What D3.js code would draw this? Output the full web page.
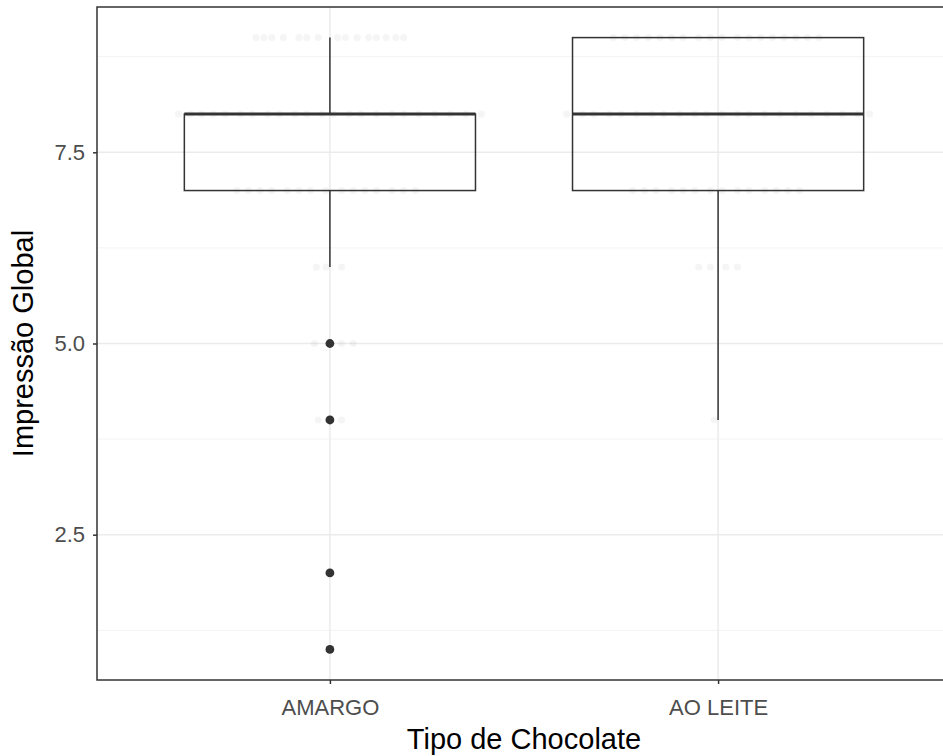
<!DOCTYPE html>
<meta charset="utf-8">
<head>
<style>
    body {margin: 0; background: #fff; overflow: hidden;}
    svg {display: block;}
    text {font-family: "Liberation Sans", Arial, sans-serif;}
</style>
</head>
<body>
<div class="chart"></div>
</body>
<script src="https://d3js.org/d3.v7.min.js"></script>
<script>
// categorias e resumo dos boxplots
var categories = ["AMARGO", "AO LEITE"];
var q1 = [7, 7];
var medians = [8, 8];
var q3 = [8, 9];
var whiskerLow = [6, 4];
var whiskerHigh = [9, 9];
var outliers = [[5, 4, 2, 1], []];

// pontos jitter (valor, deslocamento horizontal em fracao do passo)
var amargoValues = [9, 8, 7, 6, 5, 4, 2, 1];
var amargoJitter = [
    [-0.19, -0.17, -0.15, -0.12, -0.08, -0.06, -0.03, 0.02, 0.04, 0.07, 0.10, 0.12, 0.145, 0.17, 0.19],
    [-0.39, -0.36, -0.33, -0.30, -0.27, -0.23, -0.20, -0.16, -0.13, -0.09, -0.06, -0.02, 0.01, 0.05, 0.08, 0.12, 0.16, 0.19, 0.23, 0.27, 0.31, 0.35, 0.39],
    [-0.24, -0.21, -0.18, -0.15, -0.11, -0.08, -0.05, -0.01, 0.03, 0.06, 0.09, 0.12, 0.16, 0.19, 0.22],
    [-0.035, -0.01, 0.03],
    [-0.04, 0.0, 0.03, 0.06],
    [-0.03, 0.03],
    [0.0],
    [0.0]
];
var leiteValues = [9, 8, 7, 6, 4];
var leiteJitter = [
    [-0.27, -0.24, -0.21, -0.18, -0.15, -0.12, -0.09, -0.05, -0.02, 0.01, 0.05, 0.08, 0.11, 0.14, 0.17, 0.20, 0.23, 0.26],
    [-0.39, -0.35, -0.32, -0.28, -0.25, -0.21, -0.17, -0.14, -0.10, -0.06, -0.03, 0.01, 0.05, 0.08, 0.12, 0.16, 0.20, 0.24, 0.28, 0.32, 0.36, 0.39],
    [-0.22, -0.19, -0.16, -0.12, -0.09, -0.06, -0.02, 0.01, 0.05, 0.08, 0.12, 0.15, 0.18, 0.21],
    [-0.05, -0.02, 0.02, 0.05],
    [-0.01]
];
var yTicks = [2.5, 5.0, 7.5];
var yMinor = [1.25, 3.75, 6.25, 8.75];

var width = 943, height = 756;
var panel = {left: 97, top: 7, right: 951, bottom: 680};

var svg = d3.select(".chart").append("svg")
    .attr("width", width)
    .attr("height", height);

var x = d3.scalePoint().domain(categories).range([panel.left, panel.right]).padding(0.6);
var y = d3.scaleLinear().domain([0.6, 9.4]).range([panel.bottom, panel.top]);
var step = x.step();

var g = svg.append("g");

// grade
g.selectAll(".minor").data(yMinor).enter().append("line")
    .attr("x1", panel.left).attr("x2", panel.right)
    .attr("y1", function (d) { return y(d); }).attr("y2", function (d) { return y(d); })
    .attr("stroke", "#f3f3f3").attr("stroke-width", 1);
g.selectAll(".major").data(yTicks).enter().append("line")
    .attr("x1", panel.left).attr("x2", panel.right)
    .attr("y1", function (d) { return y(d); }).attr("y2", function (d) { return y(d); })
    .attr("stroke", "#ebebeb").attr("stroke-width", 1.5);
g.selectAll(".vmajor").data(categories).enter().append("line")
    .attr("x1", function (d) { return x(d); }).attr("x2", function (d) { return x(d); })
    .attr("y1", panel.top).attr("y2", panel.bottom)
    .attr("stroke", "#ebebeb").attr("stroke-width", 1.5);

// pontos jitter claros
var jitterPts = [];
[[amargoValues, amargoJitter], [leiteValues, leiteJitter]].forEach(function (s, i) {
    s[0].forEach(function (v, j) {
        s[1][j].forEach(function (o) {
            jitterPts.push({cat: categories[i], value: v, off: o});
        });
    });
});
g.selectAll(".jit").data(jitterPts).enter().append("circle")
    .attr("cx", function (d) { return x(d.cat) + d.off * step; })
    .attr("cy", function (d) { return y(d.value); })
    .attr("r", 3.6)
    .attr("fill", "#000")
    .attr("fill-opacity", 0.04);

// boxplots
var boxW = 0.75 * step;
categories.forEach(function (c, i) {
    var cx = x(c);
    g.append("line").attr("x1", cx).attr("x2", cx)
        .attr("y1", y(whiskerHigh[i])).attr("y2", y(q3[i]))
        .attr("stroke", "#333").attr("stroke-width", 1.5);
    g.append("line").attr("x1", cx).attr("x2", cx)
        .attr("y1", y(q1[i])).attr("y2", y(whiskerLow[i]))
        .attr("stroke", "#333").attr("stroke-width", 1.5);
    g.append("rect")
        .attr("x", cx - boxW / 2).attr("width", boxW)
        .attr("y", y(q3[i])).attr("height", y(q1[i]) - y(q3[i]))
        .attr("fill", "none").attr("stroke", "#333").attr("stroke-width", 1.5);
    g.append("line").attr("x1", cx - boxW / 2).attr("x2", cx + boxW / 2)
        .attr("y1", y(medians[i])).attr("y2", y(medians[i]))
        .attr("stroke", "#333").attr("stroke-width", 3);
    g.selectAll(".out" + i).data(outliers[i]).enter().append("circle")
        .attr("cx", cx).attr("cy", function (d) { return y(d); })
        .attr("r", 4.4).attr("fill", "#333");
});

// moldura
svg.append("rect")
    .attr("x", panel.left).attr("y", panel.top)
    .attr("width", panel.right - panel.left).attr("height", panel.bottom - panel.top)
    .attr("fill", "none").attr("stroke", "#333").attr("stroke-width", 1.5);

// eixos
var yAxis = svg.append("g")
    .attr("transform", "translate(" + panel.left + ",0)")
    .call(d3.axisLeft(y).tickValues(yTicks).tickFormat(d3.format(".1f")).tickSize(4).tickPadding(8));
var xAxis = svg.append("g")
    .attr("transform", "translate(0," + panel.bottom + ")")
    .call(d3.axisBottom(x).tickSize(4).tickPadding(15));
[yAxis, xAxis].forEach(function (a) {
    a.select(".domain").remove();
    a.selectAll(".tick line").attr("stroke", "#333").attr("stroke-width", 1.5);
    a.selectAll(".tick text").attr("fill", "#4d4d4d").style("font-size", "22px")
        .style("font-family", "'Liberation Sans', Arial, sans-serif");
});

svg.append("text")
    .attr("x", (panel.left + panel.right) / 2).attr("y", 749)
    .attr("text-anchor", "middle").style("font-size", "29px").attr("fill", "#000")
    .text("Tipo de Chocolate");
svg.append("text")
    .attr("transform", "translate(33," + (panel.top + panel.bottom) / 2 + ") rotate(-90)")
    .attr("text-anchor", "middle").style("font-size", "29px").attr("fill", "#000")
    .text("Impressão Global");
</script>
</body>
